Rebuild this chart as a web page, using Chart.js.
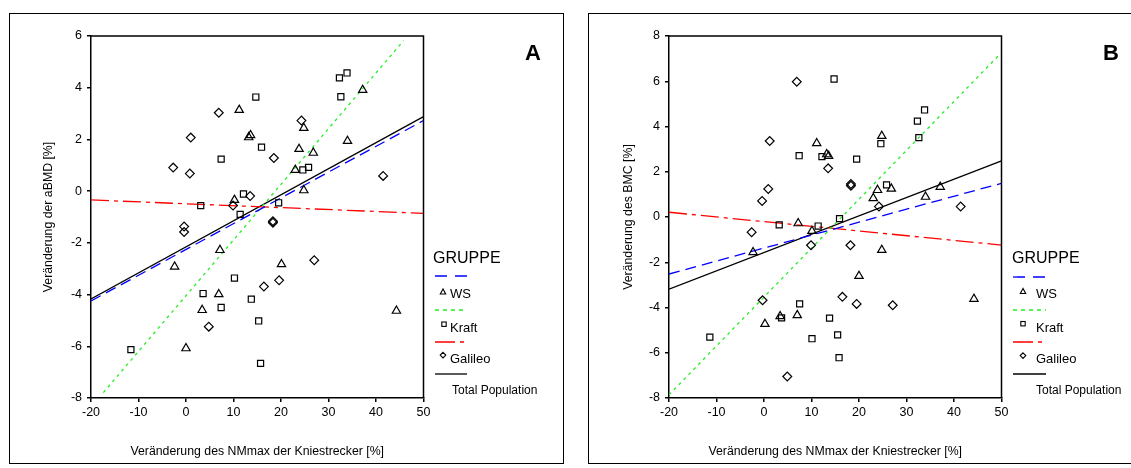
<!DOCTYPE html>
<html><head><meta charset="utf-8">
<script src="https://cdn.jsdelivr.net/npm/chart.js@4.4.1/dist/chart.umd.min.js"></script>
<style>
body{margin:0;width:1131px;height:468px;overflow:hidden;background:#fff;font-family:"Liberation Sans",Arial,sans-serif;position:relative}
.frame{position:absolute;border:1px solid #000;box-sizing:border-box}
.cv{position:absolute;top:0;height:468px}
.t{position:absolute;color:#000;white-space:nowrap;line-height:1}
.lg{font-size:13px}
</style></head><body>
<div class="frame" style="left:9px;top:13px;width:555px;height:451px"></div>
<div class="frame" style="left:588px;top:13px;width:600px;height:451px"></div>
<div class="cv" style="left:0;width:575px"><canvas id="cA"></canvas></div>
<div class="cv" style="left:580px;width:551px"><canvas id="cB"></canvas></div>

<div class="t" style="left:525px;top:42px;font-size:22px;font-weight:bold">A</div>
<div class="t" style="left:1103px;top:42px;font-size:22px;font-weight:bold">B</div>

<svg style="position:absolute;left:0;top:0" width="1131" height="468">
 <g fill="none" stroke-width="1.3">
  <line x1="435" y1="276" x2="467" y2="276" stroke="#0000ff" stroke-dasharray="12 8"/>
  <line x1="435" y1="310" x2="467" y2="310" stroke="#22ee22" stroke-dasharray="4 4"/>
  <line x1="435" y1="342" x2="467" y2="342" stroke="#ff0000" stroke-dasharray="20 5 4 5"/>
  <line x1="435" y1="374" x2="467" y2="374" stroke="#000"/>
  <line x1="1013" y1="277" x2="1046" y2="277" stroke="#0000ff" stroke-dasharray="12 8"/>
  <line x1="1013" y1="310" x2="1046" y2="310" stroke="#22ee22" stroke-dasharray="4 4"/>
  <line x1="1013" y1="342" x2="1046" y2="342" stroke="#ff0000" stroke-dasharray="20 5 4 5"/>
  <line x1="1013" y1="374" x2="1046" y2="374" stroke="#000"/>
 </g>
 <g fill="none" stroke="#000" stroke-width="1.1">
  <polygon points="443,289 440.3,294 445.7,294"/>
  <rect x="441.8" y="322" width="4.4" height="4.4"/>
  <polygon points="443,352.3 445.8,355.1 443,357.9 440.2,355.1"/>
  <polygon points="1023,288.5 1020.3,293.5 1025.7,293.5"/>
  <rect x="1020.8" y="321.5" width="4.4" height="4.4"/>
  <polygon points="1023,352.8 1025.8,355.6 1023,358.4 1020.2,355.6"/>
 </g>
</svg>
<div class="t" style="left:433px;top:250px;font-size:16px">GRUPPE</div>
<div class="t lg" style="left:450px;top:287px">WS</div>
<div class="t lg" style="left:450px;top:321px">Kraft</div>
<div class="t lg" style="left:450px;top:352px">Galileo</div>
<div class="t" style="left:452px;top:384px;font-size:12px">Total Population</div>
<div class="t" style="left:1012px;top:250px;font-size:16px">GRUPPE</div>
<div class="t lg" style="left:1036px;top:287px">WS</div>
<div class="t lg" style="left:1036px;top:321px">Kraft</div>
<div class="t lg" style="left:1036px;top:352px">Galileo</div>
<div class="t" style="left:1036px;top:384px;font-size:12px">Total Population</div>

<script>
// ---------- shared ----------
const xTicks = [-20, -10, 0, 10, 20, 30, 40, 50];
const xTitle = "Veränderung des NMmax der Kniestrecker [%]";

// ---------- Panel A: aBMD ----------
const yTicksA = [-8, -6, -4, -2, 0, 2, 4, 6];
const yTitleA = "Veränderung der aBMD [%]";
const wsX_A = [11.2, 13.2, 13.6, 10.2, 7.15, -2.4, 6.9, 3.4, 0.0, 37.2, 24.8, 34.0, 23.8, 26.8, 23.0, 24.8, 20.1, 44.3];
const wsY_A = [3.14, 2.08, 2.16, -0.34, -2.28, -2.92, -3.99, -4.6, -6.08, 3.91, 2.44, 1.94, 1.63, 1.48, 0.82, 0.03, -2.83, -4.63];
const kraftX_A = [14.7, 7.4, 15.9, 3.1, 12.1, 11.4, 10.2, 3.6, 7.4, 13.75, 15.3, -11.6, 15.7, 32.3, 33.9, 32.6, 24.6, 25.8, 19.5];
const kraftY_A = [3.64, 1.24, 1.70, -0.56, -0.11, -0.90, -3.36, -3.96, -4.50, -4.18, -5.02, -6.13, -6.66, 4.38, 4.57, 3.65, 0.82, 0.92, -0.45];
const galX_A = [-2.7, 1.0, 0.8, 6.9, 9.9, 13.5, -0.4, -0.4, 4.8, 24.3, 18.5, 41.5, 18.3, 18.3, 27.0, 19.6, 16.4];
const galY_A = [0.91, 2.07, 0.68, 3.03, -0.56, -0.19, -1.37, -1.58, -5.24, 2.73, 1.28, 0.59, -1.16, -1.22, -2.67, -3.45, -3.69];
// fit lines (endpoints)
const wsFitX_A = [-20, 50], wsFitY_A = [-4.25, 2.73];
const kraftFitX_A = [-17.4, 45.8], kraftFitY_A = [-7.79, 5.82];
const galFitX_A = [-20, 50], galFitY_A = [-0.34, -0.86];
const totFitX_A = [-20, 50], totFitY_A = [-4.17, 2.88];

// ---------- Panel B: BMC ----------
const yTicksB = [-8, -6, -4, -2, 0, 2, 4, 6, 8];
const yTitleB = "Veränderung des BMC [%]";
const wsX_B = [11.1, 13.2, 13.6, 10.1, 7.2, -2.3, 7.0, 3.4, 0.2, 37.1, 24.8, 34.0, 23.9, 26.8, 23.0, 24.8, 20.0, 44.2];
const wsY_B = [3.26, 2.77, 2.70, -0.62, -0.28, -1.56, -4.34, -4.39, -4.73, 1.33, 3.58, 0.89, 1.19, 1.25, 0.83, -1.46, -2.61, -3.62];
const kraftX_B = [7.4, 3.2, 11.4, 7.5, 3.7, -11.4, 10.1, 14.75, 33.8, 32.3, 32.6, 24.6, 12.2, 19.5, 25.8, 15.9, 13.8, 15.5, 15.8];
const kraftY_B = [2.71, -0.35, -0.40, -3.84, -4.46, -5.31, -5.38, 6.10, 4.73, 4.24, 3.51, 3.24, 2.67, 2.56, 1.42, -0.07, -4.47, -5.21, -6.22];
const galX_B = [6.9, 1.2, 0.9, -0.4, -2.6, 9.9, -0.3, 4.9, 13.5, 18.3, 18.3, 24.2, 41.4, 18.2, 16.5, 19.5, 27.1];
const galY_B = [5.98, 3.36, 1.24, 0.71, -0.67, -1.25, -3.68, -7.05, 2.15, 1.46, 1.38, 0.46, 0.46, -1.25, -3.53, -3.84, -3.90];
const wsFitX_B = [-20, 50], wsFitY_B = [-2.52, 1.49];
const kraftFitX_B = [-20, 49.5], kraftFitY_B = [-7.86, 7.16];
const galFitX_B = [-20, 50], galFitY_B = [0.21, -1.24];
const totFitX_B = [-20, 50], totFitY_B = [-3.19, 2.48];

const FONT = '"Liberation Sans", Arial, sans-serif';
const pts = (xs, ys) => xs.map((v, i) => ({x: v, y: ys[i]}));

const boxPlugin = {
  id: 'box',
  afterDatasetsDraw(c) {
    const a = c.chartArea, ctx = c.ctx;
    ctx.save();
    ctx.strokeStyle = '#000'; ctx.lineWidth = 1.5;
    ctx.beginPath();
    ctx.moveTo(a.left, a.top); ctx.lineTo(a.right, a.top); ctx.lineTo(a.right, a.bottom);
    ctx.stroke();
    ctx.restore();
  }
};

function scatterDs(xs, ys, style, r) {
  return {type: 'scatter', data: pts(xs, ys), pointStyle: style, pointRadius: r,
    pointBorderColor: '#000', pointBorderWidth: 1.2, pointBackgroundColor: 'rgba(0,0,0,0)', showLine: false};
}
function lineDs(xs, ys, color, dash) {
  return {type: 'line', data: pts(xs, ys), borderColor: color, borderWidth: 1.3, borderDash: dash,
    pointRadius: 0, fill: false, tension: 0};
}

function makeChart(id, p) {
  new Chart(document.getElementById(id), {
    type: 'scatter',
    data: {datasets: [
      scatterDs(p.wsX, p.wsY, 'triangle', 4.8),
      scatterDs(p.krX, p.krY, 'rect', 4.3),
      scatterDs(p.gaX, p.gaY, 'rectRot', 4.4),
      lineDs(p.wsFX, p.wsFY, '#0000ff', [11, 6]),
      lineDs(p.krFX, p.krFY, '#22ee22', [3, 4]),
      lineDs(p.gaFX, p.gaFY, '#ff0000', [18, 5, 4, 5]),
      lineDs(p.toFX, p.toFY, '#000000', [])
    ]},
    options: {
      responsive: true, maintainAspectRatio: false, animation: false,
      layout: {padding: {left: 0, top: 36, right: p.padRight, bottom: 0}},
      plugins: {legend: {display: false}, tooltip: {enabled: false}},
      scales: {
        x: {
          type: 'linear', min: -20, max: 50,
          afterBuildTicks: s => { s.ticks = xTicks.map(v => ({value: v})); },
          afterFit: s => { s.height = 70; },
          grid: {drawOnChartArea: false, drawTicks: true, tickLength: 4, color: '#000', lineWidth: 1.5},
          border: {display: true, color: '#000', width: 1.5},
          ticks: {font: {size: 12.5, family: FONT}, color: '#000', padding: 3, maxRotation: 0, autoSkip: false},
          title: {display: true, text: xTitle, color: '#000', font: {size: 12.3, family: FONT}, padding: {top: 0, bottom: 9}}
        },
        y: {
          type: 'linear', min: p.yMin, max: p.yMax,
          afterBuildTicks: s => { s.ticks = p.yTicks.map(v => ({value: v})); },
          afterFit: s => { s.width = p.yWidth; },
          grid: {drawOnChartArea: false, drawTicks: true, tickLength: 4, color: '#000', lineWidth: 1.5},
          border: {display: true, color: '#000', width: 1.5},
          ticks: {font: {size: 12.5, family: FONT}, color: '#000', padding: 5, autoSkip: false},
          title: {display: true, text: p.yTitle, color: '#000', font: {size: 12.3, family: FONT}, padding: {top: 41, bottom: 0}}
        }
      }
    },
    plugins: [boxPlugin]
  });
}

makeChart('cA', {
  wsX: wsX_A, wsY: wsY_A, krX: kraftX_A, krY: kraftY_A, gaX: galX_A, gaY: galY_A,
  wsFX: wsFitX_A, wsFY: wsFitY_A, krFX: kraftFitX_A, krFY: kraftFitY_A,
  gaFX: galFitX_A, gaFY: galFitY_A, toFX: totFitX_A, toFY: totFitY_A,
  yTicks: yTicksA, yMin: -8, yMax: 6, yTitle: yTitleA, yWidth: 91, padRight: 151.5
});
makeChart('cB', {
  wsX: wsX_B, wsY: wsY_B, krX: kraftX_B, krY: kraftY_B, gaX: galX_B, gaY: galY_B,
  wsFX: wsFitX_B, wsFY: wsFitY_B, krFX: kraftFitX_B, krFY: kraftFitY_B,
  gaFX: galFitX_B, gaFY: galFitY_B, toFX: totFitX_B, toFY: totFitY_B,
  yTicks: yTicksB, yMin: -8, yMax: 8, yTitle: yTitleB, yWidth: 89, padRight: 129.5
});
</script>
</body></html>
